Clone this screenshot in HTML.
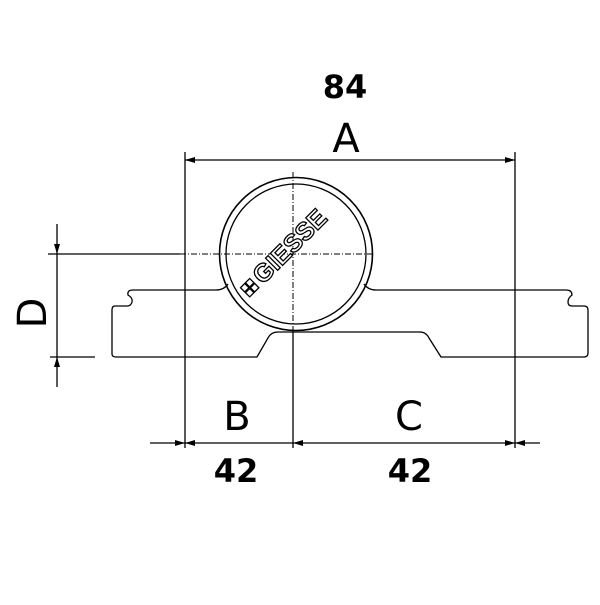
<!DOCTYPE html>
<html><head><style>body{margin:0;background:#fff}</style></head><body>
<svg width="600" height="600" viewBox="0 0 600 600" xmlns="http://www.w3.org/2000/svg" font-family="DejaVu Sans, Liberation Sans, sans-serif">
<defs><marker id="a" viewBox="0 0 10 6" refX="10" refY="3" markerWidth="10" markerHeight="6" orient="auto-start-reverse" markerUnits="userSpaceOnUse"><path d="M0,0L10,3L0,6z" fill="#000"/></marker></defs>
<g stroke="#000" fill="none" stroke-width="1.3">
<line x1="185" y1="152" x2="185" y2="448"/>
<line x1="515" y1="152" x2="515" y2="448"/>
<line x1="293" y1="330" x2="293" y2="448"/>
<line x1="48" y1="254" x2="180" y2="254"/>
<line x1="50" y1="357" x2="95" y2="357"/>
<line x1="185" y1="160" x2="515" y2="160" marker-start="url(#a)" marker-end="url(#a)"/>
<line x1="150" y1="443" x2="185" y2="443" marker-end="url(#a)"/>
<line x1="293" y1="443" x2="185" y2="443" marker-end="url(#a)"/>
<line x1="293" y1="443" x2="515" y2="443" marker-start="url(#a)" marker-end="url(#a)"/>
<line x1="540" y1="443" x2="515" y2="443" marker-end="url(#a)"/>
<line x1="57" y1="224" x2="57" y2="254" marker-end="url(#a)"/>
<line x1="57" y1="387" x2="57" y2="357" marker-end="url(#a)"/>
<line x1="57" y1="254" x2="57" y2="357"/>
<g stroke-dasharray="6,2,1,2" stroke-width="1">
<line x1="293" y1="172" x2="293" y2="335"/>
<line x1="180" y1="254" x2="372" y2="254"/>
</g>
<path d="M228,284 Q224,290 216,290 L133,290 Q127,290 128,295 Q133,298 132,302 Q131,306 127,306 L115,306 Q112,306 112,310 L112,354 Q112,357 116,357 L257,357 L268,338 Q271,332 278,332 L420,332 Q426,332 429,338 L441,357 L584,357 Q588,357 588,353 L588,310 Q588,306 584,306 L572,306 Q568,306 568,302 Q568,298 572,295 Q572,290 566,290 L376,290 Q368,290 364,284"/>
<circle cx="296" cy="254" r="76.5" stroke-width="1.6"/>
<circle cx="296" cy="254" r="70"/>
</g>
<g transform="translate(290,258) rotate(-45)">
<text x="8" y="0" font-size="25" font-weight="bold" text-anchor="middle" fill="#fff" stroke="#000" stroke-width="1.3" font-family="Liberation Sans, sans-serif">GIESSE</text>
<g stroke="#000" fill="none" stroke-width="1.3"><rect x="-56" y="-14" width="6" height="6"/><rect x="-49" y="-14" width="6" height="6"/><rect x="-56" y="-7" width="6" height="6"/><rect x="-49" y="-7" width="6" height="6"/></g>
</g>
<g font-weight="bold" fill="#000" text-anchor="middle">
<text x="345" y="98" font-size="32">84</text>
<text x="346" y="152" font-size="40" font-weight="normal">A</text>
<text x="237" y="430" font-size="40" font-weight="normal">B</text>
<text x="409" y="430" font-size="40" font-weight="normal">C</text>
<text x="236" y="482" font-size="32">42</text>
<text x="410" y="482" font-size="32">42</text>
<text x="0" y="0" font-size="40" font-weight="normal" transform="translate(46,313) rotate(-90)">D</text>
</g>
</svg>
</body></html>
